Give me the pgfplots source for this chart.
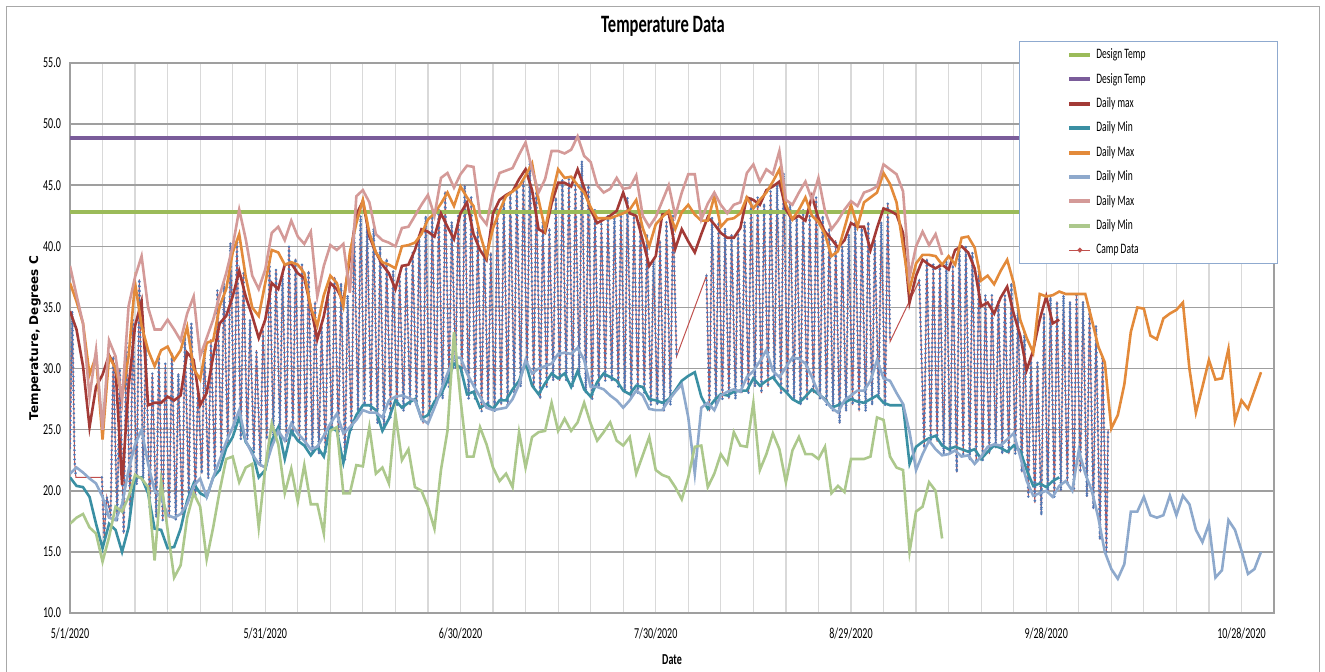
\documentclass[border=0pt]{standalone}
\usepackage{pgfplots}
\usepackage{pgfplotstable}
\pgfplotsset{compat=1.18}
\usepackage{fontspec}
\setmainfont{Carlito}[FakeStretch=0.66]
\newfontfamily\ylabfont{DejaVu Sans}
\definecolor{dtgreen}{HTML}{9BBB59}
\definecolor{dtpurple}{HTML}{7A5C9A}
\definecolor{dmaxred}{HTML}{A33A36}
\definecolor{dminteal}{HTML}{3A8FA3}
\definecolor{dmaxorange}{HTML}{E38A3A}
\definecolor{dminblue}{HTML}{8EA9CC}
\definecolor{dmaxpink}{HTML}{D49A98}
\definecolor{dmingreen}{HTML}{ACC88C}
\definecolor{campred}{HTML}{C0504D}
\definecolor{campblue}{HTML}{4F78B6}
\definecolor{legborder}{HTML}{8FAACF}
\definecolor{framegray}{HTML}{A8A8A8}

\pgfplotstableread[row sep=\\]{
x y\\
0.0 23.5\\ 0.35 34.7\\ 0.7 22.5\\ 0.9 21.1\\ 2.9 nan\\ 4.9 21.1\\
5.25 16.2\\ 5.65 19.5\\ 6.25 18.0\\ 6.65 31.0\\ 7.25 17.5\\ 7.65 30.0\\ 8.25 16.5\\ 8.65 32.3\\ 9.25 18.0\\ 9.65 34.0\\
10.25 20.5\\ 10.65 37.3\\ 11.25 21.0\\ 11.65 32.3\\ 12.25 18.5\\ 12.65 29.6\\ 13.25 17.8\\ 13.65 31.0\\ 14.25 17.6\\ 14.65 30.4\\
15.25 17.8\\ 15.65 31.3\\ 16.25 17.6\\ 16.65 29.6\\ 17.25 18.0\\ 17.65 32.6\\ 18.25 19.5\\ 18.65 33.7\\ 19.25 19.5\\ 19.65 28.5\\
20.25 21.4\\ 20.65 31.5\\ 21.25 21.0\\ 21.65 32.4\\ 22.25 21.7\\ 22.65 36.4\\ 23.25 23.0\\ 23.65 37.0\\ 24.25 23.6\\ 24.65 40.3\\
25.25 25.2\\ 25.65 40.5\\ 26.25 24.2\\ 26.65 37.8\\ 27.25 24.2\\ 27.65 34.0\\ 28.25 23.1\\ 28.65 31.5\\ 29.25 22.0\\ 29.65 33.2\\
30.25 24.2\\ 30.65 38.9\\ 31.25 24.5\\ 31.65 38.1\\ 32.25 25.0\\ 32.65 37.8\\ 33.25 24.0\\ 33.65 40.0\\ 34.25 24.5\\ 34.65 39.0\\
35.25 24.0\\ 35.65 38.5\\ 36.25 23.5\\ 36.65 38.0\\ 37.25 23.0\\ 37.65 35.5\\ 38.25 23.0\\ 38.65 33.5\\ 39.25 23.0\\ 39.65 36.0\\
40.25 25.0\\ 40.65 37.5\\ 41.25 24.5\\ 41.65 37.0\\ 42.25 22.5\\ 42.65 36.0\\ 43.25 25.0\\ 43.65 41.5\\ 44.25 26.5\\ 44.65 42.5\\
45.25 27.0\\ 45.65 42.0\\ 46.25 26.5\\ 46.65 41.5\\ 47.25 25.5\\ 47.65 40.0\\ 48.25 25.0\\ 48.65 39.0\\ 49.25 26.0\\ 49.65 38.0\\
50.25 27.0\\ 50.65 37.5\\ 51.25 26.5\\ 51.65 38.5\\ 52.25 27.0\\ 52.65 39.5\\ 53.25 27.0\\ 53.65 41.0\\ 54.25 25.5\\ 54.65 42.5\\
55.25 26.0\\ 55.65 42.5\\ 56.25 27.0\\ 56.65 43.0\\ 57.25 27.5\\ 57.65 44.5\\ 58.25 28.5\\ 58.65 42.0\\ 59.25 30.0\\ 59.65 42.5\\
60.25 29.5\\ 60.65 45.0\\ 61.25 27.5\\ 61.65 44.0\\ 62.25 27.5\\ 62.65 41.5\\ 63.25 26.5\\ 63.65 40.0\\ 64.25 27.0\\ 64.65 39.5\\
65.25 26.5\\ 65.65 43.0\\ 66.25 27.0\\ 66.65 44.0\\ 67.25 27.0\\ 67.65 44.5\\ 68.25 28.0\\ 68.65 45.0\\ 69.25 28.5\\ 69.65 45.5\\
70.25 30.0\\ 70.65 47.0\\ 71.25 28.5\\ 71.65 44.5\\ 72.25 27.5\\ 72.65 42.0\\ 73.25 28.5\\ 73.65 41.5\\ 74.25 29.0\\ 74.65 44.0\\
75.25 29.0\\ 75.65 45.5\\ 76.25 29.0\\ 76.65 45.5\\ 77.25 28.5\\ 77.65 45.0\\ 78.25 29.5\\ 78.65 47.0\\ 79.25 28.0\\ 79.65 45.0\\
80.25 27.5\\ 80.65 43.0\\ 81.25 28.5\\ 81.65 42.0\\ 82.25 29.0\\ 82.65 42.5\\ 83.25 29.0\\ 83.65 42.5\\ 84.25 28.5\\ 84.65 43.0\\
85.25 28.0\\ 85.65 44.0\\ 86.25 27.5\\ 86.65 42.5\\ 87.25 28.0\\ 87.65 42.5\\ 88.25 28.0\\ 88.65 41.0\\ 89.25 27.0\\ 89.65 39.0\\
90.25 27.0\\ 90.65 40.5\\ 91.25 26.5\\ 91.65 42.0\\ 92.25 27.0\\ 92.65 42.5\\ 93.2 31.0\\ 95.5 nan\\ 97.8 37.6\\
98.25 26.5\\ 98.65 42.4\\ 99.25 27.0\\ 99.65 42.0\\ 100.25 27.5\\ 100.65 41.5\\ 101.25 27.5\\ 101.65 41.0\\ 102.25 27.5\\ 102.65 41.0\\
103.25 28.0\\ 103.65 42.0\\ 104.25 28.0\\ 104.65 44.0\\ 105.25 28.5\\ 105.65 44.0\\ 106.25 28.0\\ 106.65 43.5\\ 107.25 28.5\\ 107.65 44.5\\
108.25 29.0\\ 108.65 45.0\\ 109.25 28.0\\ 109.65 46.0\\ 110.25 28.0\\ 110.65 43.5\\ 111.25 27.5\\ 111.65 42.5\\ 112.25 27.0\\ 112.65 43.0\\
113.25 27.5\\ 113.65 42.5\\ 114.25 28.0\\ 114.65 44.0\\ 115.25 27.5\\ 115.65 42.5\\ 116.25 27.0\\ 116.65 41.5\\ 117.25 26.5\\ 117.65 40.5\\
118.25 25.5\\ 118.65 40.0\\ 119.25 26.5\\ 119.65 41.0\\ 120.25 27.0\\ 120.65 42.0\\ 121.25 26.5\\ 121.65 41.5\\ 122.25 26.5\\ 122.65 42.0\\
123.25 27.0\\ 123.65 40.5\\ 124.25 27.5\\ 124.65 42.0\\ 125.25 27.0\\ 125.65 43.5\\ 126.0 32.2\\ 128.2 nan\\ 130.5 37.2\\
131.25 23.5\\ 131.65 39.0\\ 132.25 24.0\\ 132.65 38.5\\ 133.25 24.0\\ 133.65 38.5\\ 134.25 23.0\\ 134.65 39.0\\ 135.25 23.0\\ 135.65 38.5\\
136.25 21.5\\ 136.65 40.0\\ 137.25 23.0\\ 137.65 40.0\\ 138.25 22.5\\ 138.65 39.5\\ 139.25 22.5\\ 139.65 38.5\\ 140.25 22.5\\ 140.65 36.0\\
141.25 23.0\\ 141.65 36.0\\ 142.25 23.5\\ 142.65 35.5\\ 143.25 23.0\\ 143.65 36.0\\ 144.25 23.0\\ 144.65 37.0\\ 145.25 23.0\\ 145.65 35.0\\
146.25 21.5\\ 146.65 33.0\\ 147.25 19.5\\ 147.65 31.0\\ 148.25 19.0\\ 148.65 30.5\\ 149.25 18.0\\ 149.65 34.5\\ 150.25 20.0\\ 150.65 36.0\\
151.25 19.5\\ 151.65 35.5\\ 152.25 20.0\\ 152.65 36.0\\ 153.25 20.5\\ 153.65 35.5\\ 154.25 20.0\\ 154.65 36.0\\ 155.25 21.5\\ 155.65 35.5\\
156.25 19.5\\ 156.65 35.0\\ 157.25 18.5\\ 157.65 33.5\\ 158.25 16.0\\ 158.65 31.0\\ 159.25 15.0\\ 159.5 25.0\\
}\camptable

\begin{document}
\begin{tikzpicture}
\path[use as bounding box] (0,0) rectangle (662.5pt,335.5pt);
\draw[framegray, line width=0.5pt] (3pt,-20pt) rectangle (659.5pt,332pt);
\begin{axis}[
  at={(35pt,29pt)}, anchor=south west,
  scale only axis, width=602pt, height=275pt,
  xmin=0, xmax=185, ymin=10, ymax=55,
  xtick={0,30,...,180},
  xticklabels={5/1/2020,5/31/2020,6/30/2020,7/30/2020,8/29/2020,9/28/2020,10/28/2020},
  minor xtick={0,5,...,185},
  ytick={10,15,...,55},
  major tick length=0pt, minor tick length=0pt,
  xmajorgrids, xminorgrids, ymajorgrids,
  major x grid style={draw=gray!30, line width=0.6pt},
  minor x grid style={draw=gray!30, line width=0.6pt},
  major y grid style={draw=gray!75, line width=0.8pt},
  axis line style={draw=gray!75, line width=0.6pt},
  /pgf/number format/assume math mode=true,
  yticklabel={\pgfmathprintnumber[fixed,fixed zerofill,precision=1]{\tick}},
  tick label style={font=\fontsize{7.6}{8}\selectfont},
  xticklabel style={yshift=-4pt},
  yticklabel style={xshift=-1pt},
  title={\bfseries Temperature Data},
  title style={at={(axis description cs:0.4925,1.0455)}, anchor=center, font=\fontsize{12.5}{14}\selectfont},
  xlabel={\bfseries Date},
  xlabel style={at={(axis description cs:0.5,-0.0855)}, anchor=center, font=\fontsize{7.6}{8}\selectfont},
  ylabel={\ylabfont\bfseries Temperature, Degrees C},
  ylabel style={at={(axis description cs:-0.029,0.5)}, anchor=center, font=\fontsize{6}{7}\selectfont},
  legend style={at={(axis description cs:0.788,1.04)}, anchor=north west,
    draw=legborder, line width=0.6pt, fill=white, inner xsep=0pt, inner ysep=3pt,
    font=\fontsize{7.2}{8}\selectfont, row sep=4.9pt,
    nodes={inner ysep=0pt, inner xsep=2pt, text height=5.5pt, text depth=1.8pt},
    cells={anchor=west}},
  legend image code/.code={\path (-24pt,0pt); \draw[#1, line width=2pt] (0pt,0pt) -- (10.5pt,0pt);},
]
% Camp data (drawn first, legend entry added at the end)
\addplot[campred, line width=0.5pt, forget plot] table[x=x,y=y]{\camptable};
\addplot[campblue, line width=1.4pt, dash pattern=on 0pt off 2.3pt, line cap=round, unbounded coords=jump, forget plot] table[x=x,y=y]{\camptable};

\addplot[dtgreen, line width=2pt] coordinates {(0,42.8)(185,42.8)};
\addlegendentry{\makebox[88.5pt][l]{Design Temp}}
\addplot[dtpurple, line width=2pt] coordinates {(0,48.9)(185,48.9)};
\addlegendentry{\makebox[88.5pt][l]{Design Temp}}

\addplot[dmaxred, line width=1.3pt] coordinates {
(0,34.7)(1,33.2)(2,30.2)(3,25.2)(4,28.5)(5,29.5)(6,31.1)(7,30.0)(8,20.5)(9,28.5)
(10,33.5)(11,35.5)(12,27.0)(13,27.2)(14,27.2)(15,27.7)(16,27.4)(17,27.8)(18,31.3)(19,30.7)
(20,27.0)(21,28.0)(22,31.0)(23,33.7)(24,34.3)(25,35.9)(26,38.0)(27,35.9)(28,34.3)(29,32.5)
(30,34.0)(31,37.0)(32,36.5)(33,38.5)(34,38.6)(35,37.8)(36,37.4)(37,35.0)(38,32.4)(39,34.3)
(40,37.0)(41,36.5)(42,35.5)(43,39.0)(44,42.6)(45,43.7)(46,40.8)(47,39.5)(48,38.5)(49,37.8)
(50,36.5)(51,38.4)(52,38.5)(53,39.7)(54,41.4)(55,41.2)(56,40.8)(57,42.7)(58,41.6)(59,40.6)
(60,42.7)(61,43.6)(62,41.0)(63,39.7)(64,38.9)(65,42.7)(66,43.8)(67,44.2)(68,44.5)(69,45.5)
(70,46.3)(71,44.6)(72,41.4)(73,41.1)(74,43.5)(75,45.2)(76,45.2)(77,44.9)(78,46.3)(79,44.8)
(80,43.0)(81,41.9)(82,42.2)(83,42.5)(84,42.9)(85,44.4)(86,42.7)(87,42.5)(88,40.5)(89,38.4)
(90,39.2)(91,42.6)(92,42.7)(93,39.8)(94,41.4)(95,40.4)(96,39.5)(97,41.0)(98,42.4)(99,41.8)
(100,41.1)(101,40.7)(102,40.7)(103,41.5)(104,44.0)(105,43.8)(106,43.4)(107,44.6)(108,44.9)(109,45.3)
(110,43.0)(111,42.2)(112,42.5)(113,42.1)(114,44.1)(115,42.3)(116,41.2)(117,40.6)(118,39.9)(119,40.5)
(120,41.9)(121,41.6)(122,41.6)(123,39.7)(124,41.5)(125,43.1)(126,42.9)(127,42.6)(128,41.1)(129,35.4)
(130,37.6)(131,38.9)(132,38.5)(133,38.2)(134,38.5)(135,38.1)(136,39.7)(137,40.0)(138,39.5)(139,38.2)
(140,35.1)(141,35.4)(142,34.5)(143,35.8)(144,36.7)(145,34.5)(146,32.7)(147,29.9)(148,31.5)(149,34.0)
(150,35.9)(151,33.7)(152,34.0)};
\addlegendentry{\makebox[88.5pt][l]{Daily max}}

\addplot[dminteal, line width=1.3pt] coordinates {
(0,21.1)(1,20.4)(2,20.3)(3,19.5)(4,17.3)(5,15.3)(6,17.3)(7,16.8)(8,15.0)(9,17.0)
(10,21.1)(11,21.1)(12,19.8)(13,16.9)(14,16.8)(15,15.3)(16,15.4)(17,16.9)(18,19.2)(19,20.6)
(20,19.8)(21,19.5)(22,21.1)(23,21.7)(24,23.5)(25,24.4)(26,26.0)(27,24.0)(28,23.2)(29,21.1)
(30,21.7)(31,24.1)(32,25.2)(33,22.6)(34,24.9)(35,24.1)(36,23.7)(37,22.9)(38,23.6)(39,22.8)
(40,25.2)(41,24.9)(42,22.3)(43,24.9)(44,26.2)(45,27.0)(46,27.0)(47,26.6)(48,24.9)(49,25.9)
(50,27.4)(51,26.8)(52,27.2)(53,27.5)(54,25.9)(55,26.2)(56,27.3)(57,27.9)(58,29.0)(59,30.4)
(60,30.1)(61,27.9)(62,28.1)(63,26.8)(64,27.1)(65,26.7)(66,27.4)(67,27.4)(68,28.3)(69,29.0)
(70,30.5)(71,28.6)(72,27.9)(73,28.8)(74,29.6)(75,29.2)(76,29.6)(77,28.5)(78,29.8)(79,28.3)
(80,27.7)(81,28.9)(82,29.6)(83,29.3)(84,29.0)(85,28.2)(86,27.9)(87,28.6)(88,28.5)(89,27.5)
(90,27.4)(91,27.2)(92,27.5)(93,28.2)(94,29.0)(95,29.4)(96,29.7)(97,27.7)(98,26.7)(99,27.4)
(100,27.9)(101,27.8)(102,28.1)(103,28.2)(104,28.2)(105,29.2)(106,28.6)(107,29.0)(108,29.3)(109,28.6)
(110,28.1)(111,27.5)(112,27.2)(113,27.7)(114,28.3)(115,27.9)(116,27.5)(117,26.8)(118,27.0)(119,27.2)
(120,27.5)(121,27.3)(122,27.2)(123,27.5)(124,27.8)(125,27.2)(126,27.0)(127,27.0)(128,27.0)(129,22.2)
(130,23.6)(131,24.0)(132,24.3)(133,24.5)(134,23.7)(135,23.4)(136,23.6)(137,23.4)(138,23.2)(139,23.4)
(140,22.6)(141,23.2)(142,23.7)(143,23.5)(144,23.2)(145,23.7)(146,23.3)(147,21.7)(148,20.4)(149,20.6)
(150,20.3)(151,20.8)(152,21.1)};
\addlegendentry{\makebox[88.5pt][l]{Daily Min}}

\addplot[dmaxorange, line width=1.3pt] coordinates {
(0,37.0)(1,35.5)(2,33.7)(3,29.5)(4,31.0)(5,24.2)(6,31.0)(7,30.0)(8,27.7)(9,31.0)
(10,37.0)(11,33.5)(12,31.5)(13,30.2)(14,31.5)(15,31.8)(16,30.7)(17,31.5)(18,33.4)(19,30.0)
(20,29.1)(21,32.1)(22,32.3)(23,35.1)(24,36.5)(25,39.5)(26,41.0)(27,37.5)(28,35.0)(29,34.3)
(30,37.0)(31,39.7)(32,39.5)(33,38.5)(34,38.7)(35,38.5)(36,37.8)(37,35.0)(38,33.5)(39,36.0)
(40,37.6)(41,37.0)(42,35.1)(43,39.5)(44,41.9)(45,43.8)(46,41.1)(47,39.5)(48,38.7)(49,38.5)
(50,38.2)(51,40.0)(52,40.1)(53,40.3)(54,41.0)(55,42.2)(56,42.7)(57,43.5)(58,44.4)(59,43.3)
(60,44.9)(61,44.0)(62,43.3)(63,41.0)(64,39.2)(65,41.5)(66,42.9)(67,44.1)(68,44.5)(69,44.9)
(70,45.8)(71,46.8)(72,43.8)(73,41.4)(74,44.0)(75,46.3)(76,45.6)(77,45.7)(78,45.0)(79,44.4)
(80,43.2)(81,42.3)(82,42.3)(83,42.3)(84,42.5)(85,42.7)(86,43.0)(87,43.8)(88,41.5)(89,40.0)
(90,41.8)(91,42.4)(92,42.9)(93,41.4)(94,42.8)(95,43.4)(96,42.6)(97,42.1)(98,42.1)(99,44.1)
(100,41.6)(101,42.2)(102,42.3)(103,42.7)(104,44.0)(105,43.1)(106,43.8)(107,44.4)(108,45.3)(109,46.3)
(110,43.4)(111,42.2)(112,43.0)(113,44.0)(114,42.5)(115,42.0)(116,41.0)(117,39.2)(118,39.6)(119,41.5)
(120,43.4)(121,41.6)(122,43.6)(123,44.0)(124,44.4)(125,46.0)(126,45.1)(127,43.6)(128,40.0)(129,36.5)
(130,38.6)(131,39.3)(132,39.3)(133,39.2)(134,38.5)(135,39.2)(136,38.5)(137,40.7)(138,40.8)(139,39.9)
(140,37.2)(141,37.6)(142,36.9)(143,38.0)(144,38.9)(145,37.0)(146,34.0)(147,32.5)(148,31.3)(149,36.1)
(150,35.9)(151,36.0)(152,36.3)(153,36.1)(154,36.1)(155,36.1)(156,36.1)(157,34.0)(158,31.8)(159,30.5)
(160,25.1)(161,26.2)(162,28.7)(163,33.0)(164,35.0)(165,34.9)(166,32.7)(167,32.4)(168,34.1)(169,34.5)
(170,34.8)(171,35.4)(172,30.0)(173,26.4)(174,28.5)(175,30.7)(176,29.1)(177,29.2)(178,31.6)(179,25.7)
(180,27.4)(181,26.7)(182,28.2)(183,29.7)};
\addlegendentry{\makebox[88.5pt][l]{Daily Max}}

\addplot[dminblue, line width=1.3pt] coordinates {
(0,21.4)(1,21.9)(2,21.5)(3,21.0)(4,20.6)(5,19.5)(6,17.8)(7,17.6)(8,18.9)(9,21.7)
(10,23.8)(11,25.0)(12,22.2)(13,20.0)(14,19.5)(15,18.0)(16,17.8)(17,18.1)(18,18.9)(19,20.4)
(20,21.0)(21,19.5)(22,21.1)(23,22.5)(24,24.0)(25,25.2)(26,26.6)(27,24.1)(28,23.0)(29,22.2)
(30,21.9)(31,23.6)(32,24.9)(33,24.1)(34,25.5)(35,24.7)(36,24.1)(37,23.4)(38,23.6)(39,24.5)
(40,25.5)(41,26.3)(42,24.7)(43,25.2)(44,25.8)(45,26.6)(46,26.4)(47,26.4)(48,26.0)(49,27.4)
(50,27.7)(51,27.8)(52,27.6)(53,27.4)(54,25.9)(55,25.5)(56,26.8)(57,28.2)(58,29.6)(59,30.9)
(60,30.9)(61,29.6)(62,28.6)(63,27.7)(64,26.8)(65,26.6)(66,26.7)(67,26.8)(68,27.5)(69,28.7)
(70,30.7)(71,29.6)(72,30.0)(73,30.2)(74,30.4)(75,31.2)(76,31.3)(77,31.2)(78,31.7)(79,30.7)
(80,28.5)(81,28.5)(82,28.3)(83,27.8)(84,27.4)(85,26.8)(86,27.4)(87,28.2)(88,27.8)(89,26.7)
(90,26.6)(91,26.6)(92,27.4)(93,28.1)(94,28.7)(95,26.0)(96,21.4)(97,26.8)(98,27.2)(99,26.6)
(100,27.8)(101,28.1)(102,28.3)(103,28.1)(104,29.3)(105,29.8)(106,30.6)(107,31.5)(108,29.8)(109,29.3)
(110,30.1)(111,30.9)(112,30.8)(113,30.4)(114,29.3)(115,28.0)(116,27.4)(117,26.8)(118,26.4)(119,27.4)
(120,27.8)(121,28.2)(122,28.2)(123,29.0)(124,30.7)(125,29.2)(126,29.0)(127,28.0)(128,27.1)(129,24.8)
(130,21.7)(131,23.0)(132,24.1)(133,23.4)(134,22.9)(135,23.0)(136,23.3)(137,22.8)(138,22.9)(139,22.2)
(140,22.8)(141,23.6)(142,23.8)(143,23.7)(144,24.2)(145,24.7)(146,22.8)(147,20.8)(148,19.6)(149,19.8)
(150,20.0)(151,19.5)(152,20.4)(153,20.8)(154,20.0)(155,23.3)(156,21.4)(157,20.0)(158,17.8)(159,15.0)
(160,13.6)(161,12.8)(162,14.0)(163,18.3)(164,18.3)(165,19.5)(166,18.0)(167,17.8)(168,18.0)(169,19.6)
(170,18.0)(171,19.6)(172,18.9)(173,16.8)(174,15.8)(175,17.3)(176,12.9)(177,13.5)(178,17.6)(179,16.8)
(180,15.1)(181,13.2)(182,13.6)(183,15.0)};
\addlegendentry{\makebox[88.5pt][l]{Daily Min}}

\addplot[dmaxpink, line width=1.3pt] coordinates {
(0,38.4)(1,36.0)(2,33.7)(3,27.7)(4,31.5)(5,25.0)(6,32.3)(7,31.0)(8,27.4)(9,35.1)
(10,37.5)(11,39.2)(12,35.0)(13,33.2)(14,33.2)(15,34.0)(16,33.2)(17,32.3)(18,34.5)(19,35.9)
(20,31.0)(21,32.5)(22,34.0)(23,36.0)(24,37.8)(25,40.0)(26,43.0)(27,40.6)(28,37.6)(29,36.5)
(30,38.1)(31,41.1)(32,41.6)(33,40.5)(34,42.1)(35,40.8)(36,40.2)(37,41.2)(38,35.9)(39,38.4)
(40,40.1)(41,39.7)(42,40.2)(43,36.2)(44,44.1)(45,44.6)(46,43.6)(47,41.0)(48,40.5)(49,40.3)
(50,40.0)(51,41.5)(52,41.6)(53,42.5)(54,43.4)(55,44.2)(56,42.5)(57,45.6)(58,46.0)(59,44.8)
(60,45.9)(61,46.6)(62,46.5)(63,42.5)(64,41.8)(65,44.4)(66,46.0)(67,46.2)(68,46.4)(69,47.5)
(70,48.5)(71,46.3)(72,44.4)(73,45.5)(74,47.8)(75,47.8)(76,47.6)(77,47.9)(78,49.0)(79,47.4)
(80,46.9)(81,45.0)(82,44.4)(83,44.7)(84,45.6)(85,44.7)(86,44.8)(87,45.8)(88,42.5)(89,41.6)
(90,42.4)(91,43.7)(92,45.0)(93,42.5)(94,44.4)(95,45.9)(96,45.9)(97,42.2)(98,43.5)(99,44.4)
(100,43.4)(101,42.7)(102,43.4)(103,43.6)(104,46.0)(105,46.7)(106,45.3)(107,46.3)(108,45.9)(109,47.8)
(110,43.8)(111,43.4)(112,44.4)(113,45.3)(114,43.8)(115,45.6)(116,42.9)(117,41.4)(118,42.1)(119,43.0)
(120,43.7)(121,43.3)(122,44.4)(123,44.6)(124,44.9)(125,46.7)(126,46.3)(127,45.9)(128,44.5)(129,37.5)
(130,40.0)(131,41.2)(132,40.1)(133,41.0)(134,39.3)};
\addlegendentry{\makebox[88.5pt][l]{Daily Max}}

\addplot[dmingreen, line width=1.3pt] coordinates {
(0,17.3)(1,17.8)(2,18.1)(3,17.0)(4,16.5)(5,14.2)(6,16.2)(7,18.7)(8,18.3)(9,19.5)
(10,21.3)(11,21.0)(12,20.3)(13,14.3)(14,20.8)(15,16.8)(16,12.9)(17,13.9)(18,17.8)(19,19.8)
(20,18.7)(21,14.4)(22,17.0)(23,20.0)(24,22.6)(25,22.8)(26,20.7)(27,21.9)(28,22.2)(29,17.0)
(30,21.9)(31,25.5)(32,23.8)(33,19.8)(34,21.8)(35,19.1)(36,22.1)(37,18.9)(38,18.9)(39,16.5)
(40,24.9)(41,25.2)(42,19.8)(43,19.8)(44,22.1)(45,22.0)(46,25.2)(47,21.4)(48,21.9)(49,20.6)
(50,26.3)(51,22.5)(52,23.4)(53,20.3)(54,20.0)(55,18.7)(56,16.9)(57,21.7)(58,24.9)(59,33.0)
(60,27.5)(61,22.8)(62,22.8)(63,25.2)(64,23.8)(65,21.9)(66,20.8)(67,21.4)(68,20.3)(69,24.8)
(70,21.9)(71,24.4)(72,24.8)(73,24.9)(74,27.2)(75,24.9)(76,25.9)(77,24.9)(78,25.6)(79,27.2)
(80,25.5)(81,24.1)(82,24.8)(83,25.6)(84,24.1)(85,23.7)(86,24.4)(87,21.4)(88,22.9)(89,24.4)
(90,21.7)(91,21.3)(92,21.1)(93,20.3)(94,19.3)(95,21.1)(96,23.6)(97,23.7)(98,20.3)(99,21.4)
(100,23.0)(101,22.2)(102,24.8)(103,23.7)(104,23.6)(105,27.2)(106,21.7)(107,23.0)(108,24.7)(109,23.4)
(110,20.7)(111,23.3)(112,24.4)(113,23.0)(114,23.0)(115,22.6)(116,23.6)(117,19.8)(118,20.4)(119,19.9)
(120,22.6)(121,22.6)(122,22.6)(123,22.8)(124,26.0)(125,25.8)(126,22.8)(127,21.9)(128,21.7)(129,15.0)
(130,18.3)(131,18.7)(132,20.7)(133,20.0)(134,16.1)};
\addlegendentry{\makebox[88.5pt][l]{Daily Min}}

\addlegendimage{legend image code/.code={\path (-24pt,0pt); \draw[campred, line width=0.6pt] (0pt,0pt) -- (10.5pt,0pt); \fill[campred] (5.25pt,0pt) circle (0.9pt);}}
\addlegendentry{\makebox[88.5pt][l]{Camp Data}}
\end{axis}
\end{tikzpicture}
\end{document}
